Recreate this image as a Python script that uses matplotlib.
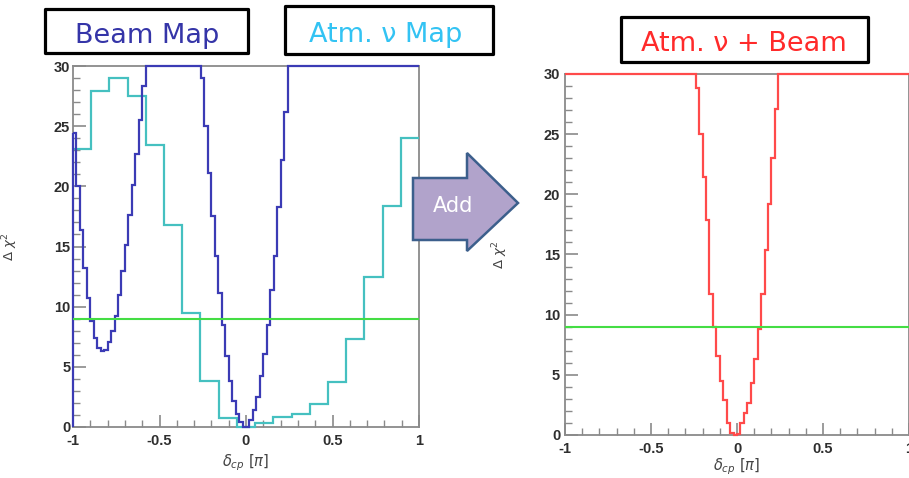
import numpy as np
import matplotlib
matplotlib.use('Agg')
import matplotlib.pyplot as plt
from matplotlib.patches import Polygon, Rectangle
from matplotlib.ticker import MultipleLocator

plt.rcParams['axes.unicode_minus'] = False

# delta_cp binning, in units of pi
beam_edges = np.linspace(-1, 1, 101)
atm_edges = np.linspace(-1, 1, 20)

# delta chi2 per bin (30 = clipped at the frame top)
beam_chi2 = [
    24.4, 20.0, 16.4, 13.2, 10.7, 8.8, 7.4, 6.6, 6.3, 6.4,
    7.1, 8.0, 9.2, 11.0, 13.0, 15.1, 17.6, 20.1, 22.7, 25.5,
    28.3, 30, 30, 30, 30, 30, 30, 30, 30, 30,
    30, 30, 30, 30, 30, 30, 30, 29.0, 25.0, 21.1,
    17.5, 14.2, 11.1, 8.5, 5.9, 3.8, 2.2, 1.1, 0.4, 0.0,
    0.0, 0.6, 1.4, 2.5, 4.2, 6.1, 8.5, 11.4, 14.2, 18.3,
    22.2, 26.2, 30, 30, 30, 30, 30, 30, 30, 30,
    30, 30, 30, 30, 30, 30, 30, 30, 30, 30,
    30, 30, 30, 30, 30, 30, 30, 30, 30, 30,
    30, 30, 30, 30, 30, 30, 30, 30, 30, 30,
]
atm_chi2 = [23.1, 27.9, 29.0, 27.5, 23.4, 16.8, 9.5, 3.8, 0.75, 0.0,
            0.3, 0.8, 1.1, 1.9, 3.7, 7.3, 12.5, 18.4, 24.05]
combined_chi2 = [
    30, 30, 30, 30, 30, 30, 30, 30, 30, 30,
    30, 30, 30, 30, 30, 30, 30, 30, 30, 30,
    30, 30, 30, 30, 30, 30, 30, 30, 30, 30,
    30, 30, 30, 30, 30, 30, 30, 30, 28.8, 25.0,
    21.4, 17.9, 11.7, 9.0, 6.6, 4.5, 2.9, 1.0, 0.2, 0.0,
    0.1, 1.0, 1.8, 2.7, 4.3, 6.3, 8.8, 11.7, 15.4, 19.2,
    23.0, 27.1, 30, 30, 30, 30, 30, 30, 30, 30,
    30, 30, 30, 30, 30, 30, 30, 30, 30, 30,
    30, 30, 30, 30, 30, 30, 30, 30, 30, 30,
    30, 30, 30, 30, 30, 30, 30, 30, 30, 30,
]
sigma3_level = 9.0

x_ticks = [-1, -0.5, 0, 0.5, 1]
x_tick_labels = ['-1', '-0.5', '0', '0.5', '1']
y_ticks = [0, 5, 10, 15, 20, 25, 30]

W, H = 909, 478


def px_rect(x0, y0, x1, y1):
    # pixel box (y from top) -> figure fraction [left, bottom, width, height]
    return [x0 / W, 1 - y1 / H, (x1 - x0) / W, (y1 - y0) / H]


def style_axes(ax, ylab_x, xlab_y, ypad):
    ax.set_xlim(-1, 1)
    ax.set_ylim(0, 30)
    ax.set_xticks(x_ticks)
    ax.set_xticklabels(x_tick_labels)
    ax.set_yticks(y_ticks)
    ax.xaxis.set_minor_locator(MultipleLocator(0.1))
    ax.yaxis.set_minor_locator(MultipleLocator(1))
    ax.tick_params(which='both', direction='in', color='#8a8a8a',
                   labelcolor='#2e2e2e', top=False, right=False)
    ax.tick_params(which='major', length=9, width=1.2, labelsize=10.5)
    ax.tick_params(which='minor', length=5, width=1.0)
    ax.tick_params(axis='x', pad=5)
    ax.tick_params(axis='y', pad=ypad)
    for lab in ax.get_xticklabels() + ax.get_yticklabels():
        lab.set_fontweight('bold')
        lab.set_family('Liberation Sans')
    for sp in ax.spines.values():
        sp.set_color('#8a8a8a')
        sp.set_linewidth(1.3)
    ax.set_xlabel(r'$\delta_{cp}$ [$\pi$]', fontsize=10.5, color='#444444')
    ax.xaxis.set_label_coords(0.5, xlab_y)
    ax.xaxis.label.set_va('center')
    ax.set_ylabel(r'$\Delta\ \chi^{2}$', fontsize=9.5, color='#444444')
    ax.yaxis.set_label_coords(ylab_x, 0.5)


fig = plt.figure(figsize=(W / 100, H / 100), dpi=100)

# left: separate maps
ax1 = fig.add_axes(px_rect(73, 66, 419, 427))
ax1.stairs(atm_chi2, atm_edges, baseline=None, color='#45c0c0', lw=1.6,
           zorder=3, clip_on=False)
ax1.stairs(beam_chi2, beam_edges, baseline=None, color='#3b3bb5', lw=1.6,
           zorder=3.1, clip_on=False)
ax1.vlines(beam_edges[0], 0, beam_chi2[0], color='#3b3bb5', lw=1.6,
           zorder=3.1, clip_on=False)
ax1.axhline(sigma3_level, color='#44dd44', lw=1.5, zorder=3.2)
style_axes(ax1, -0.153, -0.1, 2)

# right: combined
ax2 = fig.add_axes(px_rect(565, 74, 909, 435))
ax2.stairs(combined_chi2, beam_edges, baseline=None, color='#ff4a4a', lw=1.6,
           zorder=3, clip_on=False)
ax2.axhline(sigma3_level, color='#44dd44', lw=1.5, zorder=3.2)
style_axes(ax2, -0.16, -0.089, 3.5)

# title boxes
titles = [
    ('Beam Map', '#3535a8', (45, 9, 248, 53), 147.5, 43),
    ('Atm. ν Map', '#33c3f3', (285, 6, 493, 54), 385.5, 41.7),
    ('Atm. ν + Beam', '#ff2a2a', (621, 17, 868, 62), 744, 50.7),
]
for text, color, box, cx, base in titles:
    x0, y0, x1, y1 = box
    fig.add_artist(Rectangle((x0 / W, 1 - y1 / H), (x1 - x0) / W, (y1 - y0) / H,
                             transform=fig.transFigure, facecolor='white',
                             edgecolor='black', lw=2.3, joinstyle='round'))
    fig.text(cx / W, 1 - base / H, text, color=color, fontsize=19.5,
             ha='center', va='baseline', family='DejaVu Sans')

# "Add" arrow
arrow_px = [(413, 178), (467, 178), (467, 153), (518, 203),
            (467, 251), (467, 240), (413, 240)]
arrow = Polygon([(x / W, 1 - y / H) for x, y in arrow_px], closed=True,
                transform=fig.transFigure, facecolor='#b1a3cb',
                edgecolor='#3c5f8c', lw=1.8, zorder=10)
fig.add_artist(arrow)
fig.text(453 / W, 1 - 206 / H, 'Add', color='white', fontsize=15,
         ha='center', va='center', zorder=11)

fig.savefig('out.png', dpi=100)
